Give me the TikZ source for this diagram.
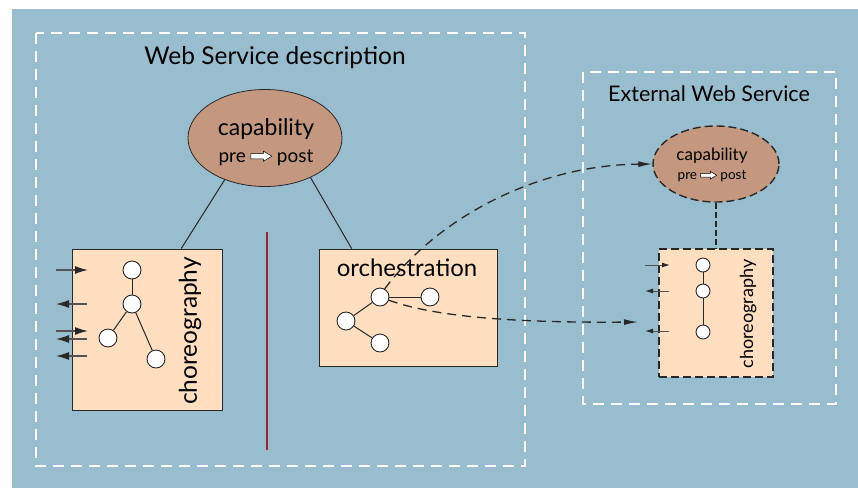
\documentclass[tikz,border=0pt]{standalone}
\usepackage{fontspec}
\setmainfont{Lato}
\usetikzlibrary{arrows.meta,shapes.geometric,calc}

\definecolor{bgblue}{RGB}{152,189,207}
\definecolor{capbrown}{RGB}{196,152,126}
\definecolor{peach}{RGB}{255,223,191}
\definecolor{sepred}{RGB}{155,38,42}
\definecolor{edgegrey}{RGB}{40,40,40}

% small white block arrow used in "pre => post"
\newcommand\whitearrow[1]{\tikz[baseline=-0.6ex,x=#1,y=#1]
  \draw[fill=white,line width=0.5pt,line join=miter]
  (0,-0.12)--(0.6,-0.12)--(0.6,-0.24)--(1,0)--(0.6,0.24)--(0.6,0.12)--(0,0.12)--cycle;}

\tikzset{
  outerframe/.style={draw=white,line width=1.8pt,dash pattern=on 11pt off 7pt},
  panel/.style={rectangle,draw=edgegrey,line width=0.9pt,fill=peach,inner sep=0pt},
  dpanel/.style={rectangle,draw=edgegrey,line width=1.4pt,dash pattern=on 8pt off 4pt,fill=peach,inner sep=0pt},
  capnode/.style={ellipse,draw=edgegrey,line width=0.8pt,fill=capbrown,inner sep=0pt},
  dcapnode/.style={ellipse,draw=edgegrey,line width=1.4pt,dash pattern=on 8pt off 4pt,fill=capbrown,inner sep=0pt},
  dot/.style={circle,draw=edgegrey,line width=0.9pt,fill=white,inner sep=0pt,minimum size=#1},
  dot/.default=18pt,
  link/.style={draw=edgegrey,line width=1pt},
  msg/.style={draw=edgegrey!80,line width=1.3pt,-{Latex[length=13pt,width=8pt,color=edgegrey]}},
  smsg/.style={draw=edgegrey!80,line width=1pt,-{Latex[length=8pt,width=5pt,color=edgegrey]}},
  flow/.style={draw=edgegrey,line width=1.3pt,dash pattern=on 9pt off 6pt,-{Latex[length=14pt,width=6pt]}},
  lbl/.style={inner sep=0pt,text=black},
}

\begin{document}
\begin{tikzpicture}[x=1pt,y=-1pt]
\useasboundingbox (0,0) rectangle (858,488);
\fill[white] (0,0) rectangle (858,488);
\fill[bgblue] (12,9) rectangle (858,488);

% frames
\draw[outerframe] (36,33) rectangle (525,466);
\draw[outerframe] (583,72) rectangle (836,404);

\node[lbl,font=\fontsize{24.5}{28}\selectfont] (title) at (275,58) {Web Service description};
\node[lbl,font=\fontsize{21.5}{25}\selectfont] (exttitle) at (709,94) {External Web Service};

% own capability
\node[capnode,minimum width=154pt,minimum height=97pt] (capA) at (265,138) {};
\node[lbl,anchor=base,font=\fontsize{23}{26}\selectfont] (capAtxt) at (266,135) {capability};
\node[lbl,anchor=base,font=\fontsize{19}{22}\selectfont] (capApp) at (266,162) {pre \whitearrow{21pt} post};

% choreography panel
\node[panel,minimum width=150pt,minimum height=161pt] (chorA) at (147,329.5) {};
\node[lbl,rotate=90,font=\fontsize{24.5}{28}\selectfont] (chorAtxt) at (190,331) {choreography};
\node[dot] (ca1) at (132,270) {};
\node[dot] (ca2) at (132,304) {};
\node[dot] (ca3) at (108,338) {};
\node[dot] (ca4) at (156,359) {};
\draw[link] (ca1) -- (ca2);
\draw[link] (ca2) -- (ca3);
\draw[link] (ca2) -- (ca4);

% message arrows of the choreography
\coordinate (mo1) at (56,270);   \coordinate (mi1) at (88,270);
\coordinate (mo2) at (56,304);   \coordinate (mi2) at (87,304);
\coordinate (mo3) at (56,331);   \coordinate (mi3) at (88,331);
\coordinate (mo4) at (56,339);   \coordinate (mi4) at (87,339);
\coordinate (mo5) at (56,356);   \coordinate (mi5) at (87,356);
\draw[msg] (mo1) -- (mi1);
\draw[msg] (mi2) -- (mo2);
\draw[msg] (mo3) -- (mi3);
\draw[msg] (mi4) -- (mo4);
\draw[msg] (mi5) -- (mo5);

% separator
\coordinate (septop) at (267,232);
\coordinate (sepbot) at (267,450);
\draw[sepred,line width=2.8pt] (septop) -- (sepbot);

% orchestration panel
\node[panel,minimum width=178pt,minimum height=117pt] (orch) at (408,307.5) {};
\node[lbl,font=\fontsize{24}{28}\selectfont] (orchtxt) at (407,268) {orchestration};
\node[dot] (o1) at (380,297) {};
\node[dot] (o2) at (430,297) {};
\node[dot] (o3) at (346,321) {};
\node[dot] (o4) at (380,343) {};
\draw[link] (o1) -- (o2);
\draw[link] (o1) -- (o3);
\draw[link] (o3) -- (o4);

% links from the capability
\draw[link] (capA.226) -- ($(chorA.north west)!0.727!(chorA.north east)$);
\draw[link] (capA.319) -- ($(orch.north west)!0.185!(orch.north east)$);

% external service
\node[dcapnode,minimum width=126pt,minimum height=76pt] (capB) at (716,164) {};
\node[lbl,font=\fontsize{17}{20}\selectfont] (capBtxt) at (712,156) {capability};
\node[lbl,font=\fontsize{13.5}{16}\selectfont] (capBpp) at (712,176) {pre \whitearrow{16pt} post};

\node[dpanel,minimum width=114pt,minimum height=128pt] (chorB) at (716,313) {};
\node[lbl,rotate=90,font=\fontsize{18}{21}\selectfont] (chorBtxt) at (748,314) {choreography};
\node[dot=14pt] (cb1) at (703,265) {};
\node[dot=14pt] (cb2) at (703,291) {};
\node[dot=14pt] (cb3) at (703,332) {};
\draw[link] (cb1) -- (cb2);
\draw[link] (cb2) -- (cb3);

\draw[draw=edgegrey,line width=1.4pt,dash pattern=on 6pt off 3pt] (capB.south) -- (chorB.north);

\coordinate (eo1) at (645,265);  \coordinate (ei1) at (670,265);
\coordinate (eo2) at (645,291);  \coordinate (ei2) at (669,291);
\coordinate (eo3) at (645,331);  \coordinate (ei3) at (669,331);
\draw[smsg] (eo1) -- (ei1);
\draw[smsg] (ei2) -- (eo2);
\draw[smsg] (ei3) -- (eo3);

% use of the external service by the orchestration
\draw[flow] (o1.60) .. controls (440,215) and (540,165) .. (capB.west);
\coordinate (flowend) at (638,322);
\draw[flow] (o1.-20) .. controls (430,315) and (500,323) .. (flowend);
\end{tikzpicture}
\end{document}
